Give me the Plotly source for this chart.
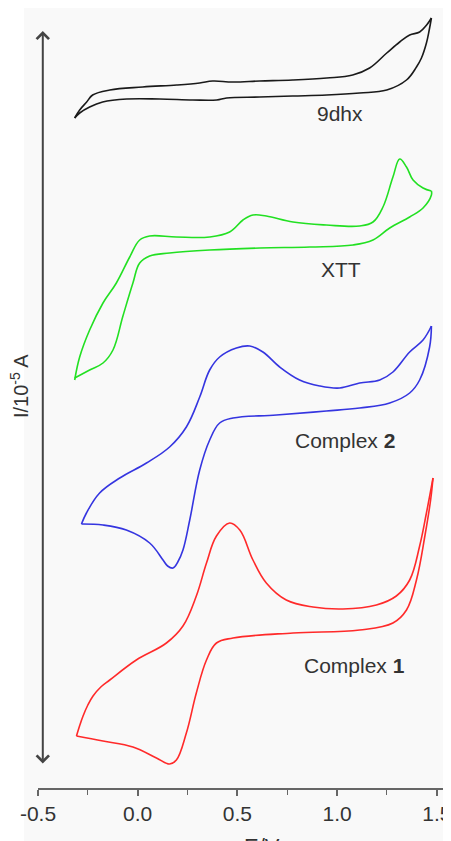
import plotly.graph_objects as go

# ---- data: cyclic voltammograms (E in V, I in offset current units) ----
# 9dhx (black)
e_9dhx_fwd = [-0.316, -0.291, -0.256, -0.226, -0.140, 0.025, 0.196, 0.311, 0.376, 0.476,
              0.612, 0.777, 0.948, 1.078, 1.163, 1.249, 1.314, 1.364, 1.414, 1.449, 1.473]
i_9dhx_fwd = [6.70, 6.78, 6.86, 6.93, 6.98, 7.01, 7.03, 7.05, 7.07, 7.06,
              7.07, 7.08, 7.10, 7.13, 7.20, 7.35, 7.46, 7.53, 7.56, 7.63, 7.70]
e_9dhx_rev = [1.473, 1.462, 1.448, 1.423, 1.398, 1.348, 1.249, 1.113, 0.948, 0.777,
              0.612, 0.446, 0.396, 0.276, 0.110, -0.055, -0.176, -0.241, -0.291, -0.316]
i_9dhx_rev = [7.70, 7.58, 7.45, 7.30, 7.21, 7.08, 6.98, 6.95, 6.93, 6.92,
              6.91, 6.90, 6.88, 6.88, 6.89, 6.89, 6.86, 6.81, 6.75, 6.70]

# XTT (green)
e_xtt_fwd = [-0.316, -0.291, -0.241, -0.174, -0.107, -0.040, 0.010, 0.060, 0.194, 0.361,
             0.461, 0.528, 0.578, 0.645, 0.779, 0.946, 1.113, 1.180, 1.230, 1.280,
             1.314, 1.348, 1.381, 1.431, 1.473]
i_xtt_fwd = [4.08, 4.31, 4.58, 4.85, 5.05, 5.31, 5.48, 5.52, 5.51, 5.51,
             5.56, 5.68, 5.73, 5.72, 5.66, 5.63, 5.62, 5.66, 5.81, 6.11,
             6.29, 6.21, 6.08, 6.00, 5.97]
e_xtt_rev = [1.473, 1.473, 1.431, 1.364, 1.264, 1.180, 1.080, 0.863, 0.612, 0.361,
             0.160, 0.060, 0.010, -0.024, -0.074, -0.124, -0.174, -0.241, -0.316]
i_xtt_rev = [5.97, 5.93, 5.80, 5.71, 5.60, 5.48, 5.43, 5.41, 5.40, 5.38,
             5.35, 5.32, 5.25, 5.05, 4.72, 4.38, 4.25, 4.18, 4.10]

# Complex 2 (blue)
e_c2_fwd = [-0.282, -0.257, -0.191, -0.090, 0.044, 0.160, 0.244, 0.311, 0.361, 0.411,
            0.495, 0.562, 0.628, 0.712, 0.812, 0.913, 1.013, 1.113, 1.214, 1.280,
            1.364, 1.431, 1.473]
i_c2_fwd = [2.64, 2.75, 2.95, 3.10, 3.25, 3.41, 3.61, 3.91, 4.18, 4.31,
            4.40, 4.42, 4.36, 4.21, 4.08, 4.02, 4.00, 4.05, 4.08, 4.16,
            4.36, 4.48, 4.62]
e_c2_rev = [1.473, 1.464, 1.414, 1.364, 1.264, 1.113, 0.946, 0.696, 0.478, 0.411,
            0.361, 0.311, 0.261, 0.227, 0.201, 0.177, 0.150, 0.127, 0.060, -0.057,
            -0.174, -0.282]
i_c2_rev = [4.62, 4.41, 4.08, 3.95, 3.85, 3.80, 3.77, 3.73, 3.70, 3.65,
            3.48, 3.18, 2.68, 2.38, 2.26, 2.20, 2.22, 2.28, 2.45, 2.58,
            2.63, 2.64]

# Complex 1 (red)
e_c1_fwd = [-0.307, -0.290, -0.274, -0.250, -0.224, -0.185, -0.140, -0.007, 0.144, 0.227,
            0.294, 0.345, 0.395, 0.461, 0.512, 0.578, 0.645, 0.745, 0.879, 1.029,
            1.197, 1.297, 1.364, 1.414, 1.448, 1.481]
i_c1_fwd = [0.52, 0.63, 0.72, 0.83, 0.92, 1.01, 1.08, 1.28, 1.45, 1.62,
            1.92, 2.25, 2.52, 2.65, 2.58, 2.28, 2.05, 1.88, 1.81, 1.79,
            1.83, 1.92, 2.08, 2.42, 2.75, 3.10]
e_c1_rev = [1.481, 1.469, 1.441, 1.398, 1.348, 1.280, 1.113, 0.779, 0.478, 0.395,
            0.345, 0.294, 0.244, 0.194, 0.160, 0.094, -0.024, -0.174, -0.307]
i_c1_rev = [3.10, 2.88, 2.53, 2.08, 1.78, 1.65, 1.58, 1.55, 1.50, 1.45,
            1.28, 0.95, 0.55, 0.28, 0.24, 0.30, 0.41, 0.47, 0.52]

series = [
    ("9dhx", "#1a1a1a", e_9dhx_fwd, i_9dhx_fwd, e_9dhx_rev, i_9dhx_rev),
    ("XTT", "#22e022", e_xtt_fwd, i_xtt_fwd, e_xtt_rev, i_xtt_rev),
    ("Complex 2", "#3535e0", e_c2_fwd, i_c2_fwd, e_c2_rev, i_c2_rev),
    ("Complex 1", "#ff2a2a", e_c1_fwd, i_c1_fwd, e_c1_rev, i_c1_rev),
]

curve_labels = ["9dhx", "XTT", "Complex <b>2</b>", "Complex <b>1</b>"]
label_e = [1.013, 1.018, 1.038, 1.088]
label_i = [6.75, 5.19, 3.48, 1.23]

x_ticks = [-0.5, 0.0, 0.5, 1.0, 1.5]
x_ticktext = ["-0.5", "0.0", "0.5", "1.0", "1.5"]

FONT = "Liberation Sans, Arial, sans-serif"

fig = go.Figure()
for name, color, ef, i_f, er, ir in series:
    for ex, iy in ((ef, i_f), (er, ir)):
        fig.add_trace(go.Scatter(x=ex, y=iy, mode="lines", name=name,
                                 line=dict(color=color, width=1.6, shape="spline", smoothing=1.1),
                                 showlegend=False, hoverinfo="skip"))

for txt, ex, iy in zip(curve_labels, label_e, label_i):
    fig.add_annotation(x=ex, y=iy, text=txt, showarrow=False,
                       font=dict(family=FONT, size=21, color="#333333"))

# vertical double-headed arrow (current axis)
fig.add_annotation(x=-0.476, y=7.57, ax=-0.476, ay=0.16, xref="x", yref="y",
                   axref="x", ayref="y", text=" ", showarrow=True,
                   arrowhead=4, startarrowhead=4, arrowside="end+start",
                   arrowwidth=2, arrowsize=1.2, arrowcolor="#444444",
                   font=dict(size=10))

# axis titles
fig.add_annotation(x=-0.046, y=4.02, xref="paper", yref="y", xanchor="center",
                   text="I/10<sup>-5</sup> A", textangle=-90, showarrow=False,
                   font=dict(family=FONT, size=20, color="#333333"))
fig.add_annotation(x=0.622, y=-0.056, xref="x", yref="paper", yanchor="top",
                   text="E/V", showarrow=False,
                   font=dict(family=FONT, size=22, color="#333333"))

# light gray panel
fig.add_shape(type="rect", xref="paper", yref="paper", x0=-0.034, x1=1.0, y0=-0.07, y1=1.0,
              fillcolor="#f9f9f9", line=dict(width=0), layer="below")

fig.update_layout(
    width=443, height=833,
    margin=dict(l=30, r=0, t=0, b=53, autoexpand=False),
    paper_bgcolor="white", plot_bgcolor="#f9f9f9",
    xaxis=dict(range=[-0.5, 1.5712], tickvals=x_ticks, ticktext=x_ticktext,
               automargin=False, ticklabeloverflow="allow",
               showline=True, linecolor="#666666", linewidth=1.5,
               ticks="outside", ticklen=6, tickwidth=1.5, tickcolor="#666666",
               minor=dict(tickvals=[-0.25, 0.25, 0.75, 1.25], ticks="outside",
                          ticklen=5, tickwidth=1.2, tickcolor="#666666"),
               showgrid=False, zeroline=False,
               tickfont=dict(family=FONT, size=21, color="#333333")),
    yaxis=dict(range=[0, 7.8], visible=False, showgrid=False, zeroline=False,
               automargin=False),
)

fig.write_html("out.html")
